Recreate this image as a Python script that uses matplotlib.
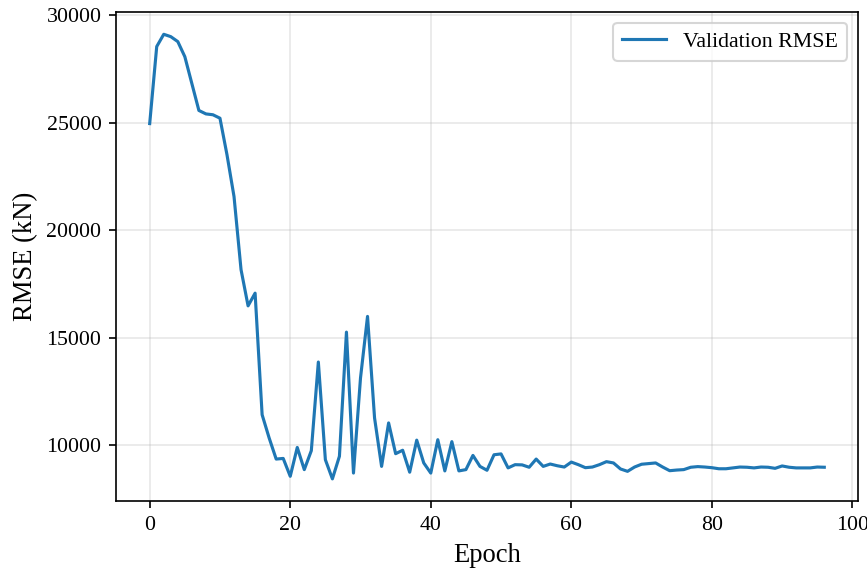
import numpy as np
import matplotlib
matplotlib.use('Agg')
from matplotlib import pyplot as plt

plt.rcParams['font.family'] = ['Liberation Serif', 'DejaVu Serif']

# validation RMSE per epoch (kN)
epochs = np.arange(0, 97)
val_rmse = [
    24950, 28530, 29100, 28990, 28760, 28060, 26810, 25560, 25400, 25360,
    25200, 23500, 21560, 18160, 16480, 17070, 11420, 10340, 9360, 9390,
    8560, 9900, 8870, 9750, 13870, 9330, 8440, 9490, 15260, 8710,
    13130, 15990, 11270, 9020, 11040, 9610, 9770, 8750, 10240, 9180,
    8710, 10260, 8810, 10170, 8810, 8870, 9530, 9020, 8840, 9560,
    9600, 8950, 9100, 9090, 8980, 9360, 9020, 9130, 9050, 8990,
    9220, 9100, 8960, 8990, 9100, 9240, 9180, 8900, 8790, 8990,
    9120, 9150, 9180, 8990, 8820, 8850, 8870, 8980, 9010, 8990,
    8960, 8910, 8910, 8950, 8990, 8980, 8950, 8990, 8980, 8930,
    9040, 8980, 8950, 8950, 8950, 8990, 8980,
]

fig, ax = plt.subplots(figsize=(8.68 / 1.5, 5.74 / 1.5), dpi=150)
fig.subplots_adjust(left=0.1336, right=0.9885, top=0.979, bottom=0.127)

ax.plot(epochs, val_rmse, color='#1f77b4', linewidth=1.5, label='Validation RMSE')
ax.set_xlabel('Epoch', fontsize=12.75)
ax.set_ylabel('RMSE (kN)', fontsize=12.75)
ax.tick_params(labelsize=10.5)
ax.grid(True, alpha=0.3)
ax.legend(loc='upper right', fontsize=10.5)

fig.savefig('out.png', dpi=150)
